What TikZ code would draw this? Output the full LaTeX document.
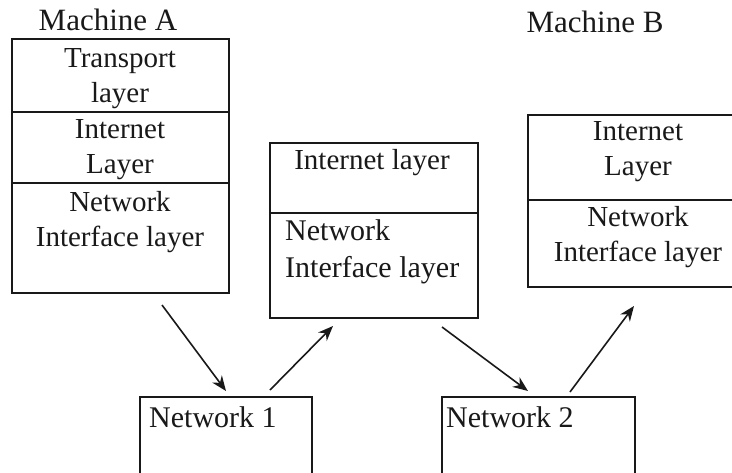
\documentclass[tikz,border=0pt]{standalone}
\usepackage{fontspec}
\setmainfont{Liberation Serif}
\usetikzlibrary{arrows.meta}
\begin{document}
\begin{tikzpicture}[x=1pt,y=-1pt,
  cell/.style={draw=black!90, line width=1.5pt, rectangle, anchor=north west, inner sep=0pt, outer sep=0pt},
  lbl/.style={inner sep=0pt, align=center, text=black!90, font=\fontsize{29}{35}\selectfont},
  lbll/.style={lbl, align=left, anchor=west},
  conn/.style={draw=black!90, line width=1.6pt, -{Stealth[length=15pt,width=12pt]}}]
\clip (0,0) rectangle (732,472);
\fill[white] (0,0) rectangle (732,472);
% Machine A
\node[lbl, font=\fontsize{31}{35}\selectfont] (ta) at (108,20) {Machine A};
\node[cell, minimum width=217pt, minimum height=73pt] (a1) at (12,39) {};
\node[cell, minimum width=217pt, minimum height=71pt] (a2) at (12,112) {};
\node[cell, minimum width=217pt, minimum height=110pt] (a3) at (12,183) {};
\node[lbl] (a1t) at (120,79) {Transport\\layer};
\node[lbl] (a2t) at (120,150) {Internet\\Layer};
\node[lbl] (a3t) at (120,222) {Network\\Interface layer};
% Router (middle)
\node[cell, minimum width=208pt, minimum height=70pt] (m1) at (270,143) {};
\node[cell, minimum width=208pt, minimum height=105pt] (m2) at (270,213) {};
\node[lbl] (m1t) at (372,163) {Internet layer};
\node[lbll, font=\fontsize{30}{37}\selectfont] (m2t) at (285,252) {Network\\Interface layer};
% Machine B
\node[lbl, font=\fontsize{31}{35}\selectfont] (tb) at (595,22) {Machine B};
\node[cell, minimum width=217pt, minimum height=85pt] (b1) at (528,115) {};
\node[cell, minimum width=217pt, minimum height=87pt] (b2) at (528,200) {};
\node[lbl] (b1t) at (638,152) {Internet\\Layer};
\node[lbl] (b2t) at (638,237) {Network\\Interface layer};
% Networks
\node[cell, minimum width=172pt, minimum height=78pt] (n1) at (140,397) {};
\node[cell, minimum width=193pt, minimum height=78pt] (n2) at (442,397) {};
\node[lbll, font=\fontsize{30}{35}\selectfont] (n1t) at (149,417) {Network 1};
\node[lbll, font=\fontsize{30}{35}\selectfont] (n2t) at (446,417) {Network 2};
% connector ends
\coordinate (s1) at (162,305); \coordinate (e1) at (226,391);
\coordinate (s2) at (270,390); \coordinate (e2) at (333,326);
\coordinate (s3) at (442,327); \coordinate (e3) at (528,391);
\coordinate (s4) at (570,392); \coordinate (e4) at (634,306);
\draw[conn] (s1) -- (e1);
\draw[conn] (s2) -- (e2);
\draw[conn] (s3) -- (e3);
\draw[conn] (s4) -- (e4);
\end{tikzpicture}
\end{document}
